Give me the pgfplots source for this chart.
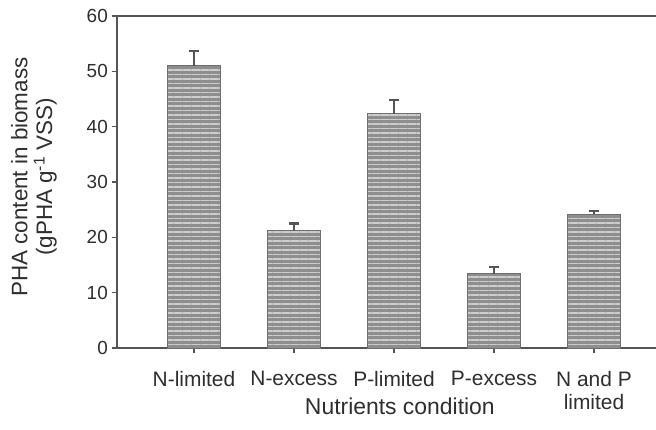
\documentclass[border=0pt]{standalone}
\usepackage{fontspec}
\setmainfont{Liberation Sans}
\usepackage{pgfplots}
\pgfplotsset{compat=1.18}
\usetikzlibrary{patterns.meta}
\definecolor{axcol}{HTML}{555555}
\definecolor{txt}{HTML}{2E2E2E}
\definecolor{barfill}{HTML}{8E8E8E}
\definecolor{stripe}{HTML}{CDCDCD}
\definecolor{barline}{HTML}{6E6E6E}
\begin{document}
\begin{tikzpicture}
\begin{axis}[
  name=ax,
  scale only axis,
  width=545bp, height=332bp,
  xmin=-0.77, xmax=4.68,
  ymin=0, ymax=60,
  ytick={0,10,...,60},
  xtick={0,1,2,3,4},
  xticklabels={N-limited, N-excess, P-limited, P-excess, {N and P\\limited}},
  axis line style={axcol, line width=2bp},
  tick style={axcol, line width=1.5bp},
  major tick length=5bp,
  tick align=outside,
  xtick pos=bottom, ytick pos=left,
  /pgf/number format/assume math mode=true,
  yticklabel style={font=\fontsize{19}{19}\selectfont, text=txt, inner sep=0pt, anchor=east, xshift=-4bp},
  xticklabel style={font=\fontsize{21}{23}\selectfont, text=txt, align=center, inner sep=0pt, anchor=north, yshift=-18bp},
  xlabel={Nutrients condition},
  xlabel style={font=\fontsize{23}{23}\selectfont, text=txt, at={(rel axis cs:0.519,-0.2018)}, anchor=base, inner sep=0pt},
  ylabel={PHA content in biomass\\(gPHA g\textsuperscript{-1} VSS)},
  ylabel style={font=\fontsize{22.5}{25}\selectfont, text=txt, align=center, at={(rel axis cs:-0.110,0.515)}, anchor=south, inner sep=0pt},
]
\addplot[ybar, bar width=53bp, fill=barfill, draw=barline, line width=1bp,
  postaction={pattern={Lines[angle=0,distance=4.5bp,line width=1.3bp]}, pattern color=stripe},
  error bars/.cd, y dir=plus, y explicit,
  error bar style={line width=2bp, draw=axcol},
  error mark options={rotate=90, mark size=5bp, line width=2bp, draw=axcol}]
coordinates {
  (0,51.0) +- (0,2.6)
  (1,21.2) +- (0,1.3)
  (2,42.3) +- (0,2.6)
  (3,13.4) +- (0,1.2)
  (4,24.2) +- (0,0.6)
};
\end{axis}
\pgfresetboundingbox
\path[use as bounding box] ([xshift=-117bp,yshift=-82bp]ax.south west) rectangle ([xshift=-6bp,yshift=16bp]ax.north east);
\end{tikzpicture}
\end{document}
